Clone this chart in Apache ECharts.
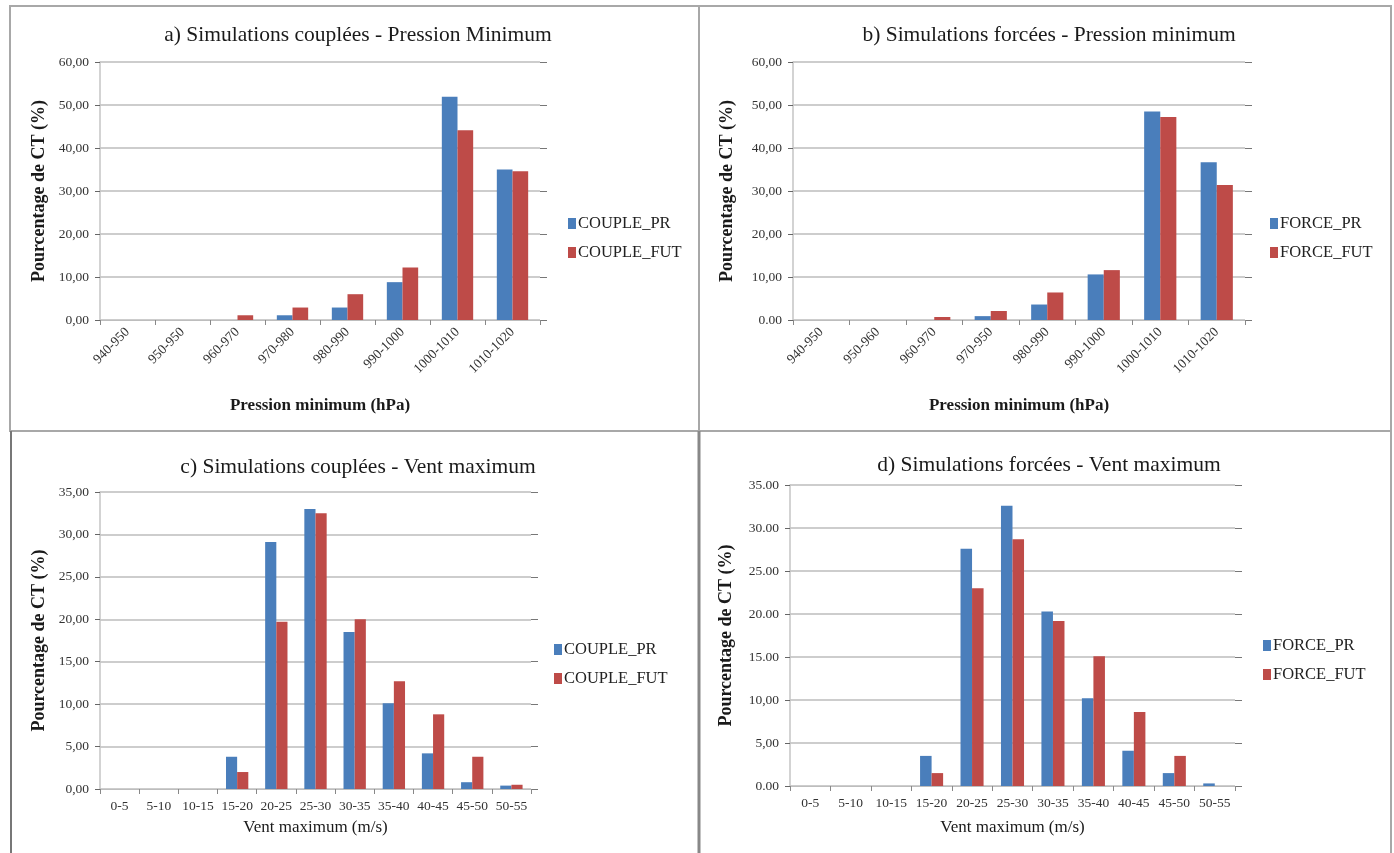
<!DOCTYPE html>
<html>
<head>
<meta charset="utf-8">
<script src="https://cdn.jsdelivr.net/npm/echarts@6/dist/echarts.min.js"></script>
<style>
html,body{margin:0;padding:0;background:#fff;}
#c{width:1394px;height:853px;}
</style>
</head>
<body>
<div id="c"></div>
<script>
// ---- data ----
const catsA = ['940-950','950-950','960-970','970-980','980-990','990-1000','1000-1010','1010-1020'];
const catsB = ['940-950','950-960','960-970','970-950','980-990','990-1000','1000-1010','1010-1020'];
const catsWind = ['0-5','5-10','10-15','15-20','20-25','25-30','30-35','35-40','40-45','45-50','50-55'];

const coupleP_PR  = [0, 0, 0,   1.1, 2.9, 8.8, 51.9, 35.0];
const coupleP_FUT = [0, 0, 1.1, 2.9, 6.0, 12.2, 44.1, 34.6];
const forceP_PR   = [0, 0, 0,   0.9, 3.6, 10.6, 48.5, 36.7];
const forceP_FUT  = [0, 0, 0.7, 2.1, 6.4, 11.6, 47.2, 31.4];

const coupleW_PR  = [0, 0, 0, 3.8, 29.1, 33.0, 18.5, 10.1, 4.2, 0.8, 0.4];
const coupleW_FUT = [0, 0, 0, 2.0, 19.7, 32.5, 20.0, 12.7, 8.8, 3.8, 0.5];
const forceW_PR   = [0, 0, 0, 3.5, 27.6, 32.6, 20.3, 10.2, 4.1, 1.5, 0.3];
const forceW_FUT  = [0, 0, 0, 1.5, 23.0, 28.7, 19.2, 15.1, 8.6, 3.5, 0];

const yTicksA = ['0,00','10,00','20,00','30,00','40,00','50,00','60,00'];
const yTicksB = ['0.00','10,00','20,00','30,00','40,00','50,00','60,00'];
const yTicksC = ['0,00','5,00','10,00','15,00','20,00','25,00','30,00','35,00'];
const yTicksD = ['0.00','5,00','10,00','15.00','20.00','25.00','30.00','35.00'];

const titles = [
  'a) Simulations couplées - Pression Minimum',
  'b) Simulations forcées - Pression minimum',
  'c) Simulations couplées - Vent maximum',
  'd) Simulations forcées - Vent maximum'
];
const yName = 'Pourcentage de CT (%)';
const xNameP = 'Pression minimum (hPa)';
const xNameW = 'Vent maximum (m/s)';
const legA = ['COUPLE_PR','COUPLE_FUT'];
const legB = ['FORCE_PR','FORCE_FUT'];

// ---- styling ----
const FONT = '"Liberation Serif", "DejaVu Serif", serif';
const BLUE = '#4a7ebb';
const RED = '#be4b48';

const grids = [
  {left:100, top:62, width:440, height:258},
  {left:793, top:62, width:452, height:258},
  {left:100, top:492, width:431, height:297},
  {left:790, top:485, width:445, height:301}
];

function xAxis(i, cats, name, rotate, gap){
  return {
    type:'category', gridIndex:i, data:cats,
    name:name, nameLocation:'middle', nameGap:gap,
    nameTextStyle:{fontFamily:FONT, fontSize:17, color:'#1a1a1a', fontWeight: rotate ? 'bold' : 'normal'},
    axisLine:{show:true, lineStyle:{color:'#bdbdbd', width:1}},
    axisTick:{show:true, alignWithLabel:false, length:5, lineStyle:{color:'#888'}},
    axisLabel:{interval:0, rotate:rotate, fontFamily:FONT, fontSize:13.5, color:'#333', margin:10},
    splitLine:{show:false}
  };
}
function yAxis(i, max, interval, labels, gap){
  return {
    type:'value', gridIndex:i, min:0, max:max, interval:interval,
    name:yName, nameLocation:'middle', nameGap:gap, nameRotate:90,
    nameTextStyle:{fontFamily:FONT, fontSize:18, fontWeight:'bold', color:'#1a1a1a'},
    axisLine:{show:true, lineStyle:{color:'#c4c4c4', width:1.5}},
    axisTick:{show:true, length:5, lineStyle:{color:'#666'}},
    axisLabel:{fontFamily:FONT, fontSize:13.5, color:'#333', margin:11,
      formatter:function(v){ return labels[Math.round(v/interval)]; }},
    splitLine:{show:true, lineStyle:{color:'#bdbdbd', width:1.5}}
  };
}
function yRight(i, max, interval){
  return {
    type:'value', gridIndex:i, min:0, max:max, interval:interval, position:'right',
    axisLine:{show:false}, axisLabel:{show:false}, splitLine:{show:false},
    axisTick:{show:true, inside:false, length:7, lineStyle:{color:'#777'}}
  };
}
function bars(name, data, i, color, yIdx){
  return {
    type:'bar', name:name, data:data, xAxisIndex:i, yAxisIndex:yIdx,
    barGap:'0%', barCategoryGap:'43%',
    itemStyle:{color:color}, silent:true, animation:false
  };
}
function legend(names, left, top){
  return {
    data:names, orient:'vertical', left:left, top:top,
    itemWidth:8, itemHeight:11, itemGap:12, icon:'rect',
    textStyle:{fontFamily:FONT, fontSize:16.5, color:'#222', padding:[0,0,0,-3]},
    selectedMode:false
  };
}

const option = {
  animation:false,
  backgroundColor:'#fff',
  title: [
    {text:titles[0], left:353, top:19, textAlign:'center'},
    {text:titles[1], left:1044, top:19, textAlign:'center'},
    {text:titles[2], left:353, top:451, textAlign:'center'},
    {text:titles[3], left:1044, top:449, textAlign:'center'}
  ].map(t => Object.assign(t, {textStyle:{fontFamily:FONT, fontSize:21.5, fontWeight:'normal', color:'#1a1a1a'}})),
  legend:[
    legend(legA, 563, 210),
    legend(legB, 1265, 210),
    legend(legA, 549, 636),
    legend(legB, 1258, 632)
  ],
  grid: grids,
  xAxis:[
    xAxis(0, catsA, xNameP, 45, 77),
    xAxis(1, catsB, xNameP, 45, 77),
    xAxis(2, catsWind, xNameW, 0, 30),
    xAxis(3, catsWind, xNameW, 0, 33)
  ],
  yAxis:[
    yAxis(0, 60, 10, yTicksA, 52),
    yAxis(1, 60, 10, yTicksB, 57),
    yAxis(2, 35, 5, yTicksC, 52),
    yAxis(3, 35, 5, yTicksD, 55),
    yRight(0, 60, 10), yRight(1, 60, 10), yRight(2, 35, 5), yRight(3, 35, 5)
  ],
  series:[
    bars(legA[0], coupleP_PR, 0, BLUE, 0),
    bars(legA[1], coupleP_FUT, 0, RED, 0),
    bars(legB[0], forceP_PR, 1, BLUE, 1),
    bars(legB[1], forceP_FUT, 1, RED, 1),
    bars(legA[0], coupleW_PR, 2, BLUE, 2),
    bars(legA[1], coupleW_FUT, 2, RED, 2),
    bars(legB[0], forceW_PR, 3, BLUE, 3),
    bars(legB[1], forceW_FUT, 3, RED, 3)
  ],
  graphic:[
    {type:'rect', shape:{x:10, y:6, width:689, height:425}, style:{fill:'none', stroke:'#a8a8a8', lineWidth:2}, silent:true},
    {type:'rect', shape:{x:699, y:6, width:692, height:425}, style:{fill:'none', stroke:'#a8a8a8', lineWidth:2}, silent:true},
    {type:'line', shape:{x1:11, y1:431, x2:11, y2:853}, style:{stroke:'#777', lineWidth:2}, silent:true},
    {type:'line', shape:{x1:699, y1:431, x2:699, y2:853}, style:{stroke:'#888', lineWidth:3}, silent:true},
    {type:'line', shape:{x1:1391, y1:431, x2:1391, y2:853}, style:{stroke:'#a8a8a8', lineWidth:2}, silent:true}
  ]
};

const chart = echarts.init(document.getElementById('c'), null, {renderer:'canvas'});
chart.setOption(option);
</script>
</body>
</html>
